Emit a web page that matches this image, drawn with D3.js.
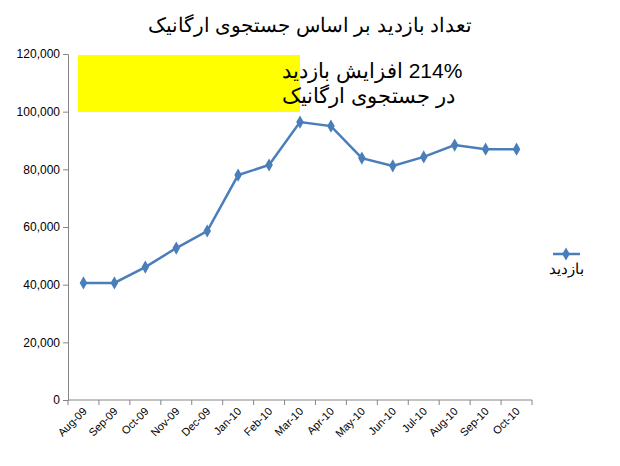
<!DOCTYPE html>
<html><head><meta charset="utf-8">
<script src="https://cdn.jsdelivr.net/npm/d3@7"></script>
<style>body{margin:0;background:#fff;font-family:"Liberation Sans",Arial,sans-serif}</style>
</head><body>
<svg id="chart" width="620" height="466"></svg>
<script>
const months = ["Aug-09","Sep-09","Oct-09","Nov-09","Dec-09","Jan-10","Feb-10","Mar-10","Apr-10","May-10","Jun-10","Jul-10","Aug-10","Sep-10","Oct-10"];
const visits = [40600,40600,46100,52700,58600,78000,81500,96400,95000,83900,81200,84300,88400,87000,87000];
const yTicks = [0,20000,40000,60000,80000,100000,120000];
const title = "تعداد بازدید بر اساس جستجوی ارگانیک";
const seriesName = "بازدید";
const note = ["214% افزایش بازدید", "در جستجوی ارگانیک"];

const svg = d3.select("#chart");
const plotLeft = 68, plotRight = 532, plotTop = 54, plotBottom = 400;
const x = d3.scalePoint().domain(months).range([plotLeft, plotRight]).padding(0.5);
const y = d3.scaleLinear().domain([0, 120000]).range([plotBottom, plotTop]);
const blue = "#4a7ebb";

svg.append("text").attr("x", 310).attr("y", 32).attr("text-anchor", "middle")
    .attr("font-size", 20).text(title);

// y axis
const yAxis = svg.append("g").attr("transform", `translate(${plotLeft},0)`)
    .call(d3.axisLeft(y).tickValues(yTicks).tickFormat(d3.format(",")).tickSizeOuter(0).tickSize(5));
yAxis.selectAll("text").attr("font-size", 12).attr("fill", "#000").attr("font-family", "Liberation Sans, Arial");
yAxis.selectAll("line,path").attr("stroke", "#868686");

// x axis with ticks between categories
const step = x.step();
const xg = svg.append("g").attr("transform", `translate(0,${plotBottom})`);
xg.append("line").attr("x1", plotLeft).attr("x2", plotRight).attr("stroke", "#868686");
d3.range(months.length + 1).forEach(i => {
    const xx = x(months[0]) - step / 2 + i * step;
    xg.append("line").attr("x1", xx).attr("x2", xx).attr("y1", 0).attr("y2", 5).attr("stroke", "#868686");
});
xg.selectAll("text.m").data(months).enter().append("text")
    .attr("class", "m").attr("font-size", 11).attr("text-anchor", "end")
    .attr("transform", d => `translate(${x(d) + 4},${12}) rotate(-45)`)
    .text(d => d);

// line
svg.append("path").datum(visits)
    .attr("d", d3.line().x((d, i) => x(months[i])).y(d => y(d)))
    .attr("fill", "none").attr("stroke", blue).attr("stroke-width", 2.5);
const diamond = d3.symbol().type(d3.symbolDiamond).size(50);
svg.selectAll("path.pt").data(visits).enter().append("path").attr("class", "pt")
    .attr("d", diamond).attr("fill", blue)
    .attr("transform", (d, i) => `translate(${x(months[i])},${y(d)})`);

// annotation box
svg.append("rect").attr("x", 78).attr("y", 55).attr("width", 222).attr("height", 57).attr("fill", "#ffff00");
note.forEach((t, i) => {
    svg.append("text").attr("x", 282).attr("y", 78 + i * 25).attr("text-anchor", "end")
        .attr("direction", "rtl").attr("font-size", 21).text(t);
});

// legend
svg.append("line").attr("x1", 553).attr("x2", 580).attr("y1", 254).attr("y2", 254)
    .attr("stroke", blue).attr("stroke-width", 2.5);
svg.append("path").attr("d", diamond).attr("fill", blue).attr("transform", "translate(566,254)");
svg.append("text").attr("x", 566).attr("y", 274).attr("text-anchor", "middle").attr("font-size", 15).text(seriesName);
</script>
</body></html>
